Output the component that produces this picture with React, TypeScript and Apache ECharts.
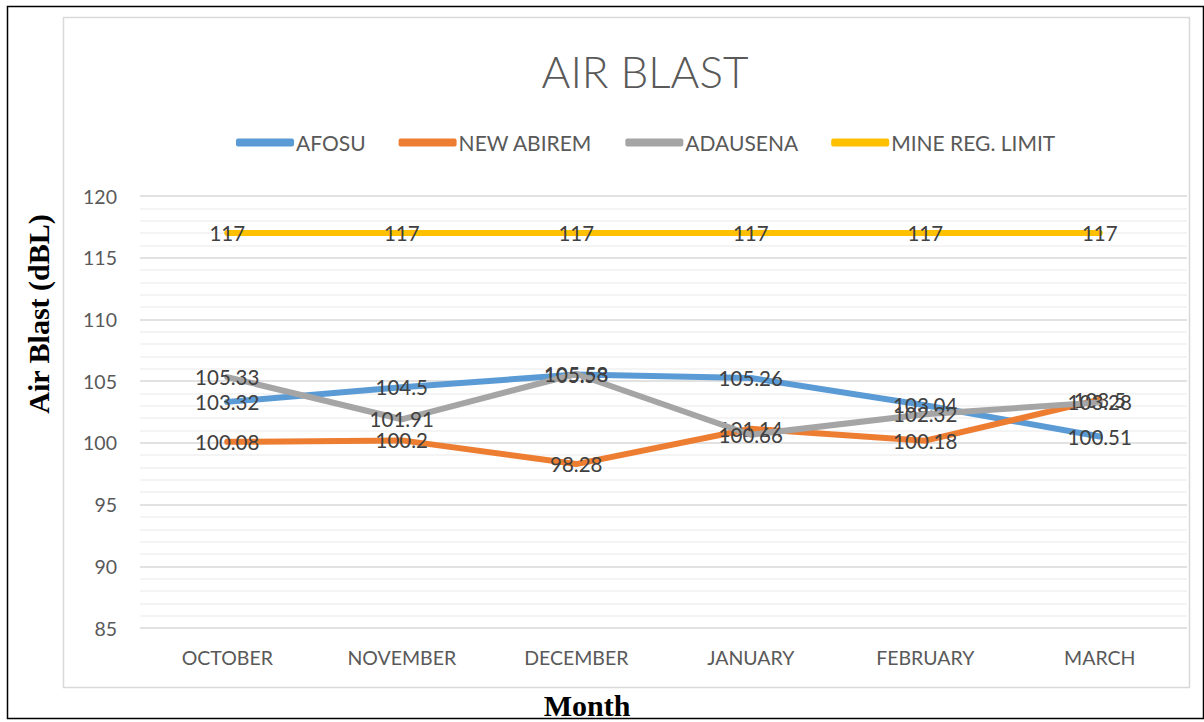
import React, { useEffect, useRef } from "react";
import * as echarts from "echarts";

const months = ["OCTOBER", "NOVEMBER", "DECEMBER", "JANUARY", "FEBRUARY", "MARCH"];
const afosu = [103.32, 104.5, 105.53, 105.26, 103.04, 100.51];
const newAbirem = [100.08, 100.2, 98.28, 101.14, 100.18, 103.5];
const adausena = [105.33, 101.91, 105.58, 100.66, 102.32, 103.28];
const mineLimit = [117, 117, 117, 117, 117, 117];
const seriesNames = ["AFOSU", "NEW ABIREM", "ADAUSENA", "MINE REG. LIMIT"];
const colors = ["#5B9BD5", "#ED7D31", "#A5A5A5", "#FFC000"];

export default function App() {
  const ref = useRef<HTMLDivElement>(null);
  useEffect(() => {
    const chart = echarts.init(ref.current!, null, { renderer: "svg" });
    const datasets = [afosu, newAbirem, adausena, mineLimit];
    const font = "Lato, 'Open Sans', sans-serif";
    chart.setOption({
      animation: false,
      backgroundColor: "#ffffff",
      title: {
        text: "AIR BLAST",
        left: 640,
        textAlign: "center",
        top: 44,
        textStyle: { fontFamily: font, fontSize: 44, fontWeight: 300, color: "#595959" },
      },
      legend: {
        data: seriesNames,
        left: 231,
        top: 127,
        icon: "roundRect",
        itemWidth: 58,
        itemHeight: 8,
        itemGap: 33,
        textStyle: { fontFamily: font, fontSize: 21, color: "#595959", padding: [0, 0, 0, -3] },
      },
      grid: { left: 140, right: 17, top: 196, bottom: 94, containLabel: false },
      xAxis: {
        type: "category",
        data: months,
        boundaryGap: true,
        axisLine: { show: false },
        axisTick: { show: false },
        axisLabel: { fontFamily: font, fontSize: 19.5, color: "#595959", margin: 19 },
      },
      yAxis: {
        type: "value",
        min: 85,
        max: 120,
        interval: 5,
        axisLine: { show: false },
        axisTick: { show: false },
        axisLabel: { fontFamily: font, fontSize: 19.5, color: "#595959", margin: 23 },
        splitLine: { lineStyle: { color: "#D9D9D9", width: 1.5 } },
        minorTick: { show: false, splitNumber: 5 },
        minorSplitLine: { show: true, lineStyle: { color: "#F0F0F0", width: 1.5 } },
      },
      series: datasets.map((d, i) => ({
        name: seriesNames[i],
        type: "line",
        data: d,
        symbol: "circle",
        symbolSize: 1,
        itemStyle: { color: colors[i] },
        lineStyle: { color: colors[i], width: 6, cap: "round", join: "round" },
        label: {
          show: true,
          position: "inside",
          fontFamily: font,
          fontSize: 20.5,
          color: "#404040",
        },
        z: 2 + i,
      })),
      graphic: [
        {
          type: "rect",
          shape: { x: 63.5, y: 17.5, width: 1126, height: 670 },
          style: { fill: "none", stroke: "#D9D9D9", lineWidth: 1.5 },
          z: -1,
          silent: true,
        },
        {
          type: "rect",
          shape: { x: 7.5, y: 6.5, width: 1196, height: 712 },
          style: { fill: "none", stroke: "#000000", lineWidth: 1.5 },
          silent: true,
        },
        {
          type: "text",
          x: 38,
          y: 314,
          rotation: Math.PI / 2,
          style: {
            text: "Air Blast (dBL)",
            font: "bold 30px 'Liberation Serif', 'Times New Roman', serif",
            fill: "#000000",
            align: "center",
            verticalAlign: "middle",
          },
        },
        {
          type: "text",
          x: 587,
          y: 705,
          style: {
            text: "Month",
            font: "bold 30px 'Liberation Serif', 'Times New Roman', serif",
            fill: "#000000",
            align: "center",
            verticalAlign: "middle",
          },
        },
      ],
    });
    return () => chart.dispose();
  }, []);
  return (
    <div
      ref={ref}
      style={{ position: "absolute", left: 0, top: 0, width: 1204, height: 722 }}
    />
  );
}
